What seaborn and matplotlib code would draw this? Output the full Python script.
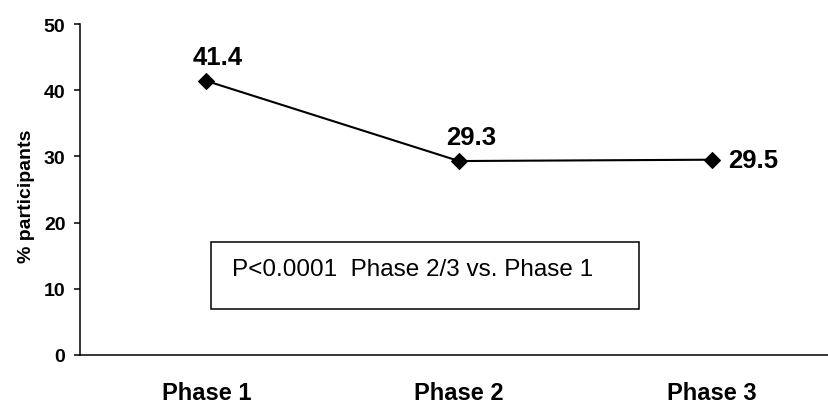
import matplotlib
matplotlib.use("Agg")
import matplotlib.pyplot as plt
import seaborn as sns
import pandas as pd
from matplotlib.patches import Rectangle

phases = ["Phase 1", "Phase 2", "Phase 3"]
pct = [41.4, 29.3, 29.5]
yticks = [0, 10, 20, 30, 40, 50]
note = "P<0.0001  Phase 2/3 vs. Phase 1"
ylabel = "% participants"

sns.set_theme(style="white")
plt.rcParams["font.family"] = ["Liberation Sans", "DejaVu Sans"]
for k in ["text.color", "axes.labelcolor", "xtick.color", "ytick.color", "axes.edgecolor"]:
    plt.rcParams[k] = "black"

df = pd.DataFrame({"phase": phases, "pct": pct})

fig = plt.figure(figsize=(8.29, 4.06), dpi=100)
W, H = 829, 406
ax = fig.add_axes([80 / W, 50 / H, 758 / W, 331 / H])

sns.lineplot(data=df, x="phase", y="pct", ax=ax, color="black", lw=1.5,
             marker="D", markersize=8, markeredgecolor="black",
             markerfacecolor="black", sort=False)

ax.set_xlim(-0.5, 2.5)
ax.set_ylim(0, 50)
ax.set_yticks(yticks)
ax.set_yticklabels([str(t) for t in yticks], fontsize=14, fontweight="bold")
ax.set_xticks(range(len(phases)))
ax.set_xticklabels(phases, fontsize=17, fontweight="bold")
ax.set_xticks([-0.5, 0.5, 1.5, 2.5], minor=True)
ax.tick_params(axis="x", which="major", length=0, pad=19)
ax.tick_params(axis="x", which="minor", length=4.5, width=1.1, color="black", direction="out")
ax.tick_params(axis="y", which="major", length=4.5, width=1.1, color="black",
               direction="out", pad=6, left=True)
ax.set_xlabel("")
ax.set_ylabel(ylabel, fontsize=14, fontweight="bold")
ax.yaxis.set_label_coords(-0.06, 0.483)

for s in ["top", "right"]:
    ax.spines[s].set_visible(False)
for s in ["left", "bottom"]:
    ax.spines[s].set_color("black")
    ax.spines[s].set_linewidth(1.1)
ax.grid(False)

for i, v in enumerate(pct):
    if i < 2:
        ax.annotate(f"{v}", (i, v), xytext=(8.5, 12.5), textcoords="offset points",
                    ha="center", va="baseline", fontsize=18.5, fontweight="bold")
    else:
        ax.annotate(f"{v}", (i, v), xytext=(11.5, 0), textcoords="offset points",
                    ha="left", va="center", fontsize=18.5, fontweight="bold")

ax.add_patch(Rectangle((131 / 758, 46 / 331), 428 / 758, 67 / 331,
                       transform=ax.transAxes, fill=False, edgecolor="black",
                       lw=1.1, clip_on=False))
ax.text(152 / 758, (356 - 276) / 331, note, transform=ax.transAxes,
        fontsize=17.5, ha="left", va="baseline", color="black")

fig.savefig("out.png", dpi=100)
